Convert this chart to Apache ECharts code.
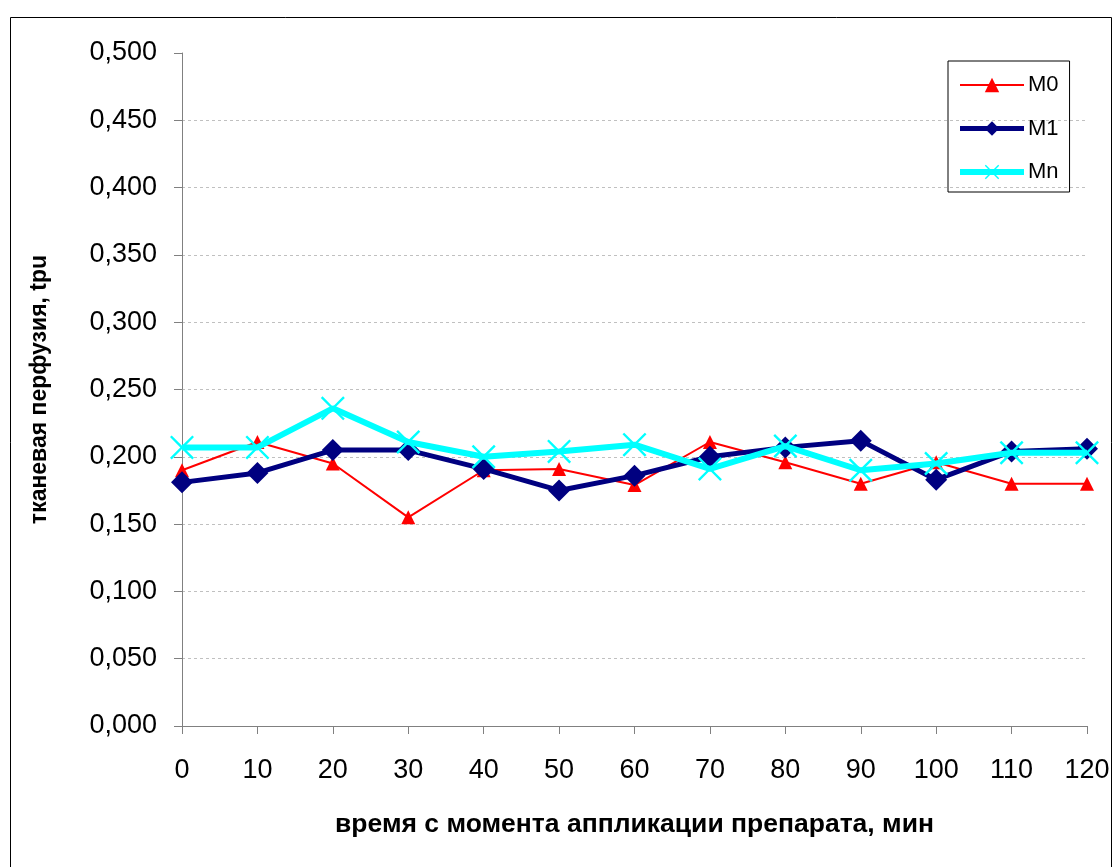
<!DOCTYPE html>
<html>
<head>
<meta charset="utf-8">
<script src="https://cdn.jsdelivr.net/npm/echarts@6/dist/echarts.min.js"></script>
<style>
html,body{margin:0;padding:0;background:#fff;}
#c{width:1113px;height:867px;}
</style>
</head>
<body>
<div id="c"></div>
<script>
const categories = ['0','10','20','30','40','50','60','70','80','90','100','110','120'];
const seriesNames = ['M0','M1','Mn'];
const m0 = [0.190,0.211,0.195,0.155,0.190,0.191,0.179,0.211,0.196,0.180,0.196,0.180,0.180];
const m1 = [0.181,0.188,0.205,0.205,0.191,0.175,0.186,0.200,0.207,0.212,0.183,0.204,0.206];
const mn = [0.207,0.207,0.236,0.211,0.200,0.204,0.209,0.191,0.208,0.190,0.195,0.203,0.203];
const yTicks = {min:0, max:0.5, interval:0.05};

const xPath = 'path://M0,7 L7,0 L50,43 L93,0 L100,7 L57,50 L100,93 L93,100 L50,57 L7,100 L0,93 L43,50 Z';
const font = 'Liberation Sans, Arial, sans-serif';
const colors = ['#ff0000','#000080','#00ffff'];
const widths = [2,5,6];

const chart = echarts.init(document.getElementById('c'));
chart.setOption({
  animation:false,
  backgroundColor:'#fff',
  graphic:[{type:'rect', shape:{x:10.5,y:17.5,width:1101,height:900}, style:{fill:'none',stroke:'#000',lineWidth:1}, z:-1}],
  grid:{left:182,right:26,top:53,bottom:141},
  legend:{
    orient:'vertical', left:948, top:61,
    data:seriesNames.map((n,i)=>({name:n, lineStyle:{color:colors[i],width:widths[i]}})),
    itemWidth:64, itemHeight:18, itemGap:21.5,
    padding:[13,11,9,9],
    borderColor:'#000', borderWidth:1,
    textStyle:{fontFamily:font,fontSize:22,color:'#000',padding:[0,0,0,-1]}
  },
  xAxis:{
    type:'category', data:categories, boundaryGap:false,
    name:'время с момента аппликации препарата, мин',
    nameLocation:'middle', nameGap:85,
    nameTextStyle:{fontFamily:font,fontSize:26.5,fontWeight:'bold',color:'#000'},
    axisLine:{lineStyle:{color:'#808080',width:1}},
    axisTick:{show:true,length:8,interval:0,lineStyle:{color:'#808080'}},
    axisLabel:{fontFamily:font,fontSize:27,color:'#000',margin:31,interval:0},
    splitLine:{show:false}
  },
  yAxis:{
    type:'value', min:yTicks.min, max:yTicks.max, interval:yTicks.interval,
    name:'тканевая перфузия, tpu',
    nameLocation:'middle', nameGap:131,
    nameTextStyle:{fontFamily:font,fontSize:23,fontWeight:'bold',color:'#000'},
    axisLine:{show:true,lineStyle:{color:'#808080',width:1}},
    axisTick:{show:true,length:8,lineStyle:{color:'#808080'}},
    axisLabel:{fontFamily:font,fontSize:27,color:'#000',margin:25,
      formatter:v=>v.toFixed(3).replace('.',',')},
    splitLine:{show:true,showMinLine:false,showMaxLine:false,lineStyle:{color:'#c0c0c0',type:[3,3],width:1}}
  },
  series:[
    {name:'M0',type:'line',data:m0,symbol:'triangle',symbolSize:14,
      lineStyle:{color:colors[0],width:widths[0]},itemStyle:{color:colors[0]},z:2},
    {name:'M1',type:'line',data:m1,symbol:'diamond',symbolSize:22,
      lineStyle:{color:colors[1],width:widths[1]},itemStyle:{color:colors[1]},z:3},
    {name:'Mn',type:'line',data:mn,symbol:xPath,symbolSize:24,
      lineStyle:{color:colors[2],width:widths[2]},itemStyle:{color:colors[2]},z:4}
  ]
});
</script>
</body>
</html>
